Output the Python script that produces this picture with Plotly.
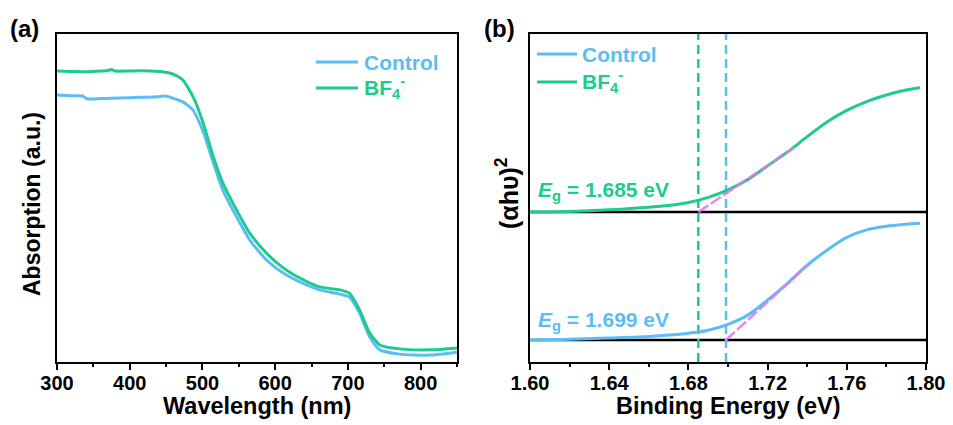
import plotly.graph_objects as go

# ---------------- data: panel (a) absorption ----------------
wl_bf4 = [300, 320, 340, 360, 370, 375, 380, 400, 415, 440, 455, 465, 473, 487, 501, 515, 528, 547, 565,
          588, 611, 634, 661, 689, 702, 716, 730, 744, 771, 812, 850]
abs_bf4 = [0.887, 0.886, 0.885, 0.887, 0.889, 0.892, 0.887, 0.887, 0.888, 0.886, 0.881, 0.872, 0.860, 0.809,
           0.729, 0.625, 0.546, 0.463, 0.393, 0.332, 0.287, 0.256, 0.229, 0.220, 0.210, 0.159, 0.088,
           0.052, 0.040, 0.037, 0.043]
wl_ctrl = [300, 320, 335, 342, 360, 375, 400, 415, 440, 450, 458, 473, 487, 501, 515, 528, 547, 565,
           588, 611, 634, 661, 689, 702, 716, 730, 744, 771, 812, 850]
abs_ctrl = [0.814, 0.812, 0.811, 0.802, 0.803, 0.804, 0.806, 0.807, 0.809, 0.811, 0.805, 0.793, 0.768,
            0.702, 0.607, 0.524, 0.442, 0.372, 0.311, 0.271, 0.244, 0.220, 0.207, 0.198, 0.149, 0.076,
            0.037, 0.024, 0.021, 0.030]

# ---------------- data: panel (b) Tauc plot ----------------
e_bf4 = [1.600, 1.620, 1.640, 1.660, 1.670, 1.680, 1.690, 1.700, 1.710, 1.720, 1.730, 1.740, 1.750, 1.760,
         1.770, 1.780, 1.790, 1.797]
t_bf4 = [0.457, 0.459, 0.464, 0.472, 0.477, 0.486, 0.502, 0.525, 0.556, 0.598, 0.640, 0.687, 0.732, 0.767,
         0.794, 0.814, 0.829, 0.836]
e_ctrl = [1.600, 1.620, 1.640, 1.660, 1.670, 1.680, 1.690, 1.700, 1.710, 1.720, 1.730, 1.740, 1.750, 1.760,
          1.770, 1.780, 1.790, 1.797]
t_ctrl = [0.067, 0.069, 0.073, 0.078, 0.082, 0.088, 0.097, 0.115, 0.143, 0.189, 0.240, 0.295, 0.341, 0.380,
          0.403, 0.414, 0.420, 0.423]
base_bf4 = 0.457
base_ctrl = 0.067
eg_bf4 = 1.685
eg_ctrl = 1.699
tan_bf4_x = [1.685, 1.733]
tan_bf4_y = [0.457, 0.652]
tan_ctrl_x = [1.699, 1.7404]
tan_ctrl_y = [0.067, 0.296]

BLUE = "#5BBDF5"
GREEN = "#1DCB8C"
PINK = "#E07CEA"
FONT = "Liberation Sans, Arial, sans-serif"

W, H = 953, 425
def px(x):
    return x / W
def py(y):
    return 1 - y / H

fig = go.Figure()
# panel a
fig.add_trace(go.Scatter(x=wl_ctrl, y=abs_ctrl, mode="lines", line=dict(color=BLUE, width=3, shape="spline", smoothing=0.6),
                         xaxis="x", yaxis="y", showlegend=False))
fig.add_trace(go.Scatter(x=wl_bf4, y=abs_bf4, mode="lines", line=dict(color=GREEN, width=3, shape="spline", smoothing=0.6),
                         xaxis="x", yaxis="y", showlegend=False))
# panel b baselines
fig.add_trace(go.Scatter(x=[1.60, 1.80], y=[base_bf4, base_bf4], mode="lines", line=dict(color="black", width=2.5),
                         xaxis="x2", yaxis="y2", showlegend=False))
fig.add_trace(go.Scatter(x=[1.60, 1.80], y=[base_ctrl, base_ctrl], mode="lines", line=dict(color="black", width=2.5),
                         xaxis="x2", yaxis="y2", showlegend=False))
# vertical dashed lines
fig.add_trace(go.Scatter(x=[eg_bf4, eg_bf4], y=[0, 1], mode="lines", line=dict(color=GREEN, width=2.5, dash="9px,5px"),
                         xaxis="x2", yaxis="y2", showlegend=False))
fig.add_trace(go.Scatter(x=[eg_ctrl, eg_ctrl], y=[0, 1], mode="lines", line=dict(color=BLUE, width=2.5, dash="9px,5px"),
                         xaxis="x2", yaxis="y2", showlegend=False))
# curves
fig.add_trace(go.Scatter(x=e_ctrl, y=t_ctrl, mode="lines", line=dict(color=BLUE, width=3, shape="spline", smoothing=1),
                         xaxis="x2", yaxis="y2", showlegend=False))
fig.add_trace(go.Scatter(x=e_bf4, y=t_bf4, mode="lines", line=dict(color=GREEN, width=3, shape="spline", smoothing=1),
                         xaxis="x2", yaxis="y2", showlegend=False))
# tangents
fig.add_trace(go.Scatter(x=tan_bf4_x, y=tan_bf4_y, mode="lines", line=dict(color=PINK, width=2.5, dash="12px,3px"),
                         opacity=0.9, xaxis="x2", yaxis="y2", showlegend=False))
fig.add_trace(go.Scatter(x=tan_ctrl_x, y=tan_ctrl_y, mode="lines", line=dict(color=PINK, width=2.5, dash="12px,3px"),
                         opacity=0.9, xaxis="x2", yaxis="y2", showlegend=False))

ydom = [py(362), py(34)]
common_x = dict(showline=True, linecolor="black", linewidth=2, mirror=True, ticks="outside", ticklen=6, tickwidth=2,
                tickcolor="black", showgrid=False, zeroline=False, ticklabelstandoff=-4,
                tickfont=dict(family=FONT, size=20, color="black", weight="bold"), automargin=False)
common_y = dict(showline=True, linecolor="black", linewidth=2, mirror=True, ticks="", showticklabels=False,
                showgrid=False, zeroline=False, range=[0, 1], domain=ydom, automargin=False)

fig.update_layout(
    width=W, height=H, margin=dict(l=0, r=0, t=0, b=0), paper_bgcolor="white", plot_bgcolor="white",
    xaxis=dict(common_x, domain=[px(57), px(457)], range=[300, 850], dtick=100, tick0=300,
               minor=dict(dtick=50, ticklen=3, tickwidth=2, ticks="outside", tickcolor="black"), anchor="y"),
    yaxis=dict(common_y, anchor="x"),
    xaxis2=dict(common_x, domain=[px(530), px(926)], range=[1.60, 1.80], dtick=0.04, tick0=1.60, tickformat=".2f",
                minor=dict(dtick=0.02, ticklen=3, tickwidth=2, ticks="outside", tickcolor="black"), anchor="y2"),
    yaxis2=dict(common_y, anchor="x2"),
)

ann = []
def txt(x, y, s, color="black", size=21, xanchor="left", yanchor="middle", angle=0):
    ann.append(dict(x=px(x), y=py(y), xref="paper", yref="paper", text=s, showarrow=False, xanchor=xanchor,
                    yanchor=yanchor, textangle=angle,
                    font=dict(family=FONT, size=size, color=color, weight="bold")))

txt(8, 28, "(a)", size=24)
txt(482, 28, "(b)", size=24)
# axis titles
txt(257, 406, "Wavelength (nm)", size=23.5, xanchor="center")
txt(728, 406, "Binding Energy (eV)", size=23.5, xanchor="center")
txt(32, 204, "Absorption (a.u.)", size=23, xanchor="center", angle=-90)
txt(507, 193, "(αhυ)<sup>2</sup>", size=25, xanchor="center", angle=-90)
# legends (a)
txt(362, 62, "Control", BLUE)
txt(362, 88, "BF<sub>4</sub><sup>-</sup>", GREEN)
# legends (b)
txt(580, 54, "Control", BLUE)
txt(580, 82, "BF<sub>4</sub><sup>-</sup>", GREEN)
# Eg labels
txt(536, 191, "<i>E</i><sub>g</sub> = 1.685 eV", GREEN, size=21)
txt(536, 321, "<i>E</i><sub>g</sub> = 1.699 eV", BLUE, size=21)
fig.update_layout(annotations=ann)

shapes = []
for (x0, x1, y, c) in [(316, 358, 62, BLUE), (316, 358, 88, GREEN), (537, 577, 54, BLUE), (537, 577, 82, GREEN)]:
    shapes.append(dict(type="line", xref="paper", yref="paper", x0=px(x0), x1=px(x1), y0=py(y), y1=py(y),
                       line=dict(color=c, width=3)))
fig.update_layout(shapes=shapes)

fig.write_html("out.html")
